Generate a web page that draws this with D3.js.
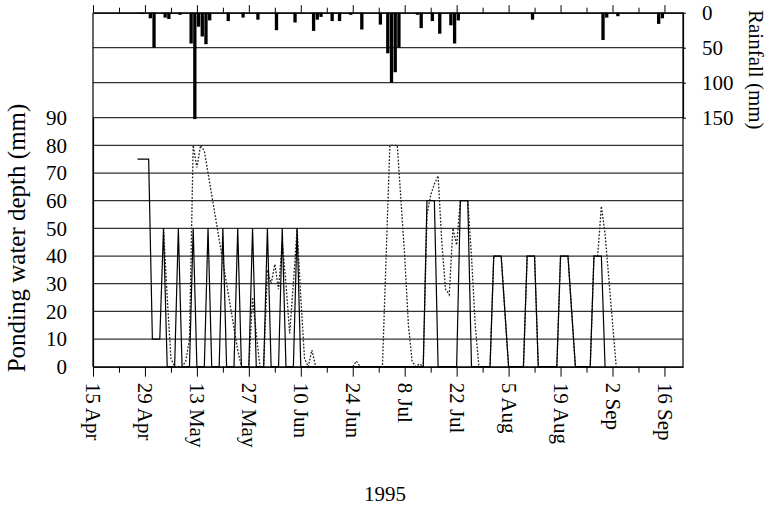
<!DOCTYPE html>
<html>
<head>
<meta charset="utf-8">
<script src="https://cdn.jsdelivr.net/npm/d3@7"></script>
<style>
  body { margin: 0; background: #fff; }
  text { font-family: "Liberation Serif", "Times New Roman", serif; fill: #000; }
</style>
</head>
<body>
<div id="vis"></div>
<script>
// chart size
var width = 771;
var height = 506;

// plot area (pixels)
var plot = {left: 93, right: 683, top: 12.7, bottom: 366.7};

// daily rainfall (mm)
var rainDates = ['1995-04-27', '1995-04-28', '1995-04-30', '1995-05-01', '1995-05-04', '1995-05-05',
    '1995-05-08', '1995-05-11', '1995-05-12', '1995-05-13', '1995-05-14', '1995-05-15', '1995-05-16',
    '1995-05-21', '1995-05-25', '1995-05-29', '1995-06-03', '1995-06-08', '1995-06-13', '1995-06-14',
    '1995-06-15', '1995-06-18', '1995-06-20', '1995-06-23', '1995-06-26', '1995-07-01', '1995-07-03',
    '1995-07-04', '1995-07-05', '1995-07-06', '1995-07-11', '1995-07-12', '1995-07-15', '1995-07-17',
    '1995-07-20', '1995-07-21', '1995-07-22', '1995-08-11', '1995-08-30', '1995-08-31', '1995-09-03',
    '1995-09-14', '1995-09-15'];
var rainMm = [1, 2, 8, 50, 7, 9, 3, 44, 152, 20, 34, 45, 11,
    12, 7, 10, 25, 14, 26, 10, 6, 12, 12, 3, 24, 17, 58,
    100, 85, 50, 3, 22, 12, 30, 18, 44, 11, 10, 39, 7, 5,
    16, 8];

// ponding water depth, solid line (mm)
var solidDates = ['1995-04-27', '1995-04-30', '1995-05-01', '1995-05-03', '1995-05-04', '1995-05-05',
    '1995-05-07', '1995-05-08', '1995-05-09', '1995-05-11', '1995-05-12', '1995-05-13', '1995-05-15',
    '1995-05-16', '1995-05-17', '1995-05-19', '1995-05-20', '1995-05-21', '1995-05-23', '1995-05-24',
    '1995-05-25', '1995-05-27', '1995-05-28', '1995-05-29', '1995-05-31', '1995-06-01', '1995-06-02',
    '1995-06-04', '1995-06-05', '1995-06-06', '1995-06-08', '1995-06-09', '1995-06-10', '1995-07-13',
    '1995-07-14', '1995-07-16', '1995-07-17', '1995-07-22', '1995-07-23', '1995-07-25', '1995-07-26',
    '1995-07-31', '1995-08-01', '1995-08-03', '1995-08-04', '1995-08-05', '1995-08-09', '1995-08-10',
    '1995-08-12', '1995-08-13', '1995-08-18', '1995-08-19', '1995-08-21', '1995-08-22', '1995-08-23',
    '1995-08-27', '1995-08-28', '1995-08-30', '1995-08-31'];
var solidDepth = [75, 75, 10, 10, 50, 0,
    0, 50, 0, 0, 50, 0, 0,
    50, 0, 0, 50, 0, 0, 50,
    0, 0, 50, 0, 0, 50, 0,
    0, 50, 0, 0, 50, 0, 0,
    60, 60, 0, 0, 60, 60, 0,
    0, 40, 40, 20, 0, 0, 40,
    40, 0, 0, 40, 40, 20, 0,
    0, 40, 40, 0];

// ponding water depth, dotted line (mm)
var dottedDates = ['1995-05-04', '1995-05-05', '1995-05-06', '1995-05-07', '1995-05-09', '1995-05-10',
    '1995-05-11', '1995-05-12', '1995-05-13', '1995-05-14', '1995-05-15', '1995-05-16', '1995-05-17',
    '1995-05-18', '1995-05-19', '1995-05-20', '1995-05-21', '1995-05-22', '1995-05-23', '1995-05-24',
    '1995-05-25', '1995-05-27', '1995-05-28', '1995-05-29', '1995-05-30', '1995-05-31', '1995-06-01',
    '1995-06-02', '1995-06-03', '1995-06-04', '1995-06-05', '1995-06-06', '1995-06-07', '1995-06-08',
    '1995-06-09', '1995-06-10', '1995-06-11', '1995-06-12', '1995-06-13', '1995-06-14', '1995-06-24',
    '1995-06-25', '1995-06-26', '1995-07-02', '1995-07-03', '1995-07-04', '1995-07-06', '1995-07-07',
    '1995-07-08', '1995-07-09', '1995-07-10', '1995-07-11', '1995-07-12', '1995-07-13', '1995-07-14',
    '1995-07-15', '1995-07-16', '1995-07-17', '1995-07-18', '1995-07-19', '1995-07-20', '1995-07-21',
    '1995-07-22', '1995-07-23', '1995-07-25', '1995-07-26', '1995-07-27', '1995-07-28', '1995-07-31',
    '1995-08-01', '1995-08-03', '1995-08-04', '1995-08-05', '1995-08-09', '1995-08-10', '1995-08-12',
    '1995-08-13', '1995-08-18', '1995-08-19', '1995-08-21', '1995-08-22', '1995-08-23', '1995-08-27',
    '1995-08-28', '1995-08-29', '1995-08-30', '1995-08-31', '1995-09-01', '1995-09-02', '1995-09-03'];
var dottedDepth = [50, 25, 3, 0, 0, 2,
    10, 80, 72, 80, 78, 70, 62,
    54, 46, 38, 30, 22, 14, 6,
    0, 0, 25, 12, 0, 0, 35,
    30, 37, 28, 45, 30, 12, 30,
    50, 25, 3, 0, 6, 0, 0,
    2, 0, 0, 40, 80, 80, 60,
    40, 15, 2, 0, 1, 0, 55,
    62, 66, 69, 45, 28, 26, 50,
    44, 60, 60, 40, 15, 0, 0,
    40, 40, 20, 0, 0, 40, 40,
    0, 0, 40, 40, 20, 0, 0,
    40, 40, 58, 48, 32, 16, 0];

// axis ticks
var depthTicks = [0, 10, 20, 30, 40, 50, 60, 70, 80, 90];
var rainTicks = [0, 50, 100, 150];
var dateLabels = ['1995-04-15', '1995-04-29', '1995-05-13', '1995-05-27', '1995-06-10', '1995-06-24',
    '1995-07-08', '1995-07-22', '1995-08-05', '1995-08-19', '1995-09-02', '1995-09-16'];
var xStart = '1995-04-15';
var xEnd = '1995-09-21';
var xTitle = '1995';

var parseDate = d3.timeParse('%Y-%m-%d');
var fmt = d3.timeFormat('%-d %b');

function zip(dates, values) {
    return dates.map(function (d, i) {
        return {date: parseDate(d), value: values[i]};
    });
}

var rain = zip(rainDates, rainMm);
var solid = zip(solidDates, solidDepth);
var dotted = zip(dottedDates, dottedDepth);

// scales
var x = d3.scaleTime()
    .domain([parseDate(xStart), parseDate(xEnd)])
    .range([plot.left, plot.right]);

var yDepth = d3.scaleLinear().domain([0, 90]).range([plot.bottom, 117.7]);
var yRain = d3.scaleLinear().domain([0, 150]).range([plot.top, 117.7]);

var svg = d3.select('#vis').append('svg')
    .attr('width', width)
    .attr('height', height);

// horizontal grid lines
var gridVals = depthTicks.filter(function (d) { return d > 0; }).map(function (d) { return yDepth(d); })
    .concat(rainTicks.filter(function (d) { return d > 0 && d < 150; }).map(function (d) { return yRain(d); }));

svg.append('g').selectAll('line')
    .data(gridVals)
    .enter().append('line')
    .attr('x1', plot.left)
    .attr('x2', plot.right)
    .attr('y1', function (d) { return d; })
    .attr('y2', function (d) { return d; })
    .attr('stroke', '#333')
    .attr('stroke-width', 1.2);

// rainfall bars hanging from the top
svg.append('g').selectAll('rect')
    .data(rain)
    .enter().append('rect')
    .attr('x', function (d) { return x(d.date); })
    .attr('width', function (d) { return x(d3.timeDay.offset(d.date, 1)) - x(d.date) - 0.4; })
    .attr('y', yRain(0))
    .attr('height', function (d) { return yRain(d.value) - yRain(0); })
    .attr('fill', '#000');

// ponding lines
var line = d3.line()
    .x(function (d) { return x(d.date); })
    .y(function (d) { return yDepth(d.value); });

svg.append('path')
    .datum(dotted)
    .attr('d', line)
    .attr('fill', 'none')
    .attr('stroke', '#222')
    .attr('stroke-width', 1.3)
    .attr('stroke-dasharray', '1.8,1.6');

svg.append('path')
    .datum(solid)
    .attr('d', line)
    .attr('fill', 'none')
    .attr('stroke', '#000')
    .attr('stroke-width', 1.2);

// weekly ticks
var weeks = d3.timeDay.range(parseDate(xStart), d3.timeDay.offset(parseDate(xEnd), 1), 7);
var labelDates = dateLabels.map(parseDate);
var minorWeeks = weeks.filter(function (d) {
    return !labelDates.some(function (l) { return +l === +d; });
});

function styleAxis(g) {
    g.select('.domain').attr('stroke', '#000').attr('stroke-width', 1.2);
    g.selectAll('.tick line').attr('stroke', '#000');
    g.attr('font-family', '"Liberation Serif", "Times New Roman", serif').attr('font-size', 21);
    g.selectAll('text').attr('fill', '#000');
}

// bottom axis
svg.append('g')
    .attr('transform', 'translate(0,' + plot.bottom + ')')
    .call(d3.axisBottom(x).tickValues(minorWeeks).tickSize(6).tickSizeOuter(0).tickFormat(''))
    .call(styleAxis);

var bottomAxis = svg.append('g')
    .attr('transform', 'translate(0,' + plot.bottom + ')')
    .call(d3.axisBottom(x).tickValues(labelDates).tickSize(10).tickSizeOuter(0).tickFormat(fmt))
    .call(styleAxis);

bottomAxis.selectAll('.tick text')
    .attr('y', 0)
    .attr('x', 16)
    .attr('dy', '0.35em')
    .attr('transform', 'rotate(90)')
    .style('text-anchor', 'start');

// top axis
svg.append('g')
    .attr('transform', 'translate(0,' + plot.top + ')')
    .call(d3.axisTop(x).tickValues(minorWeeks).tickSize(5).tickSizeOuter(0).tickFormat(''))
    .call(styleAxis);
svg.append('g')
    .attr('transform', 'translate(0,' + plot.top + ')')
    .call(d3.axisTop(x).tickValues(labelDates).tickSize(7.5).tickSizeOuter(0).tickFormat(''))
    .call(styleAxis);

// left axis: ponding depth
svg.append('g')
    .attr('transform', 'translate(' + plot.left + ',0)')
    .call(d3.axisLeft(yDepth).tickValues(depthTicks).tickSize(0).tickPadding(26))
    .call(styleAxis);
svg.append('line')
    .attr('x1', plot.left).attr('x2', plot.left)
    .attr('y1', plot.top).attr('y2', plot.bottom)
    .attr('stroke', '#000').attr('stroke-width', 1.2);

// right axis: rainfall
svg.append('g')
    .attr('transform', 'translate(' + plot.right + ',0)')
    .call(d3.axisRight(yRain).tickValues(rainTicks).tickSize(3).tickPadding(16).tickSizeOuter(0))
    .call(styleAxis);
svg.append('line')
    .attr('x1', plot.right).attr('x2', plot.right)
    .attr('y1', plot.top).attr('y2', plot.bottom)
    .attr('stroke', '#000').attr('stroke-width', 1.2);

// axis titles
svg.append('text')
    .attr('transform', 'translate(25,238) rotate(-90)')
    .attr('text-anchor', 'middle')
    .attr('font-size', 25)
    .text('Ponding water depth (mm)');

svg.append('text')
    .attr('transform', 'translate(749,10) rotate(90)')
    .attr('text-anchor', 'start')
    .attr('font-size', 21)
    .text('Rainfall (mm)');

svg.append('text')
    .attr('x', 385)
    .attr('y', 501)
    .attr('text-anchor', 'middle')
    .attr('font-size', 21)
    .text(xTitle);
</script>
</body>
</html>
